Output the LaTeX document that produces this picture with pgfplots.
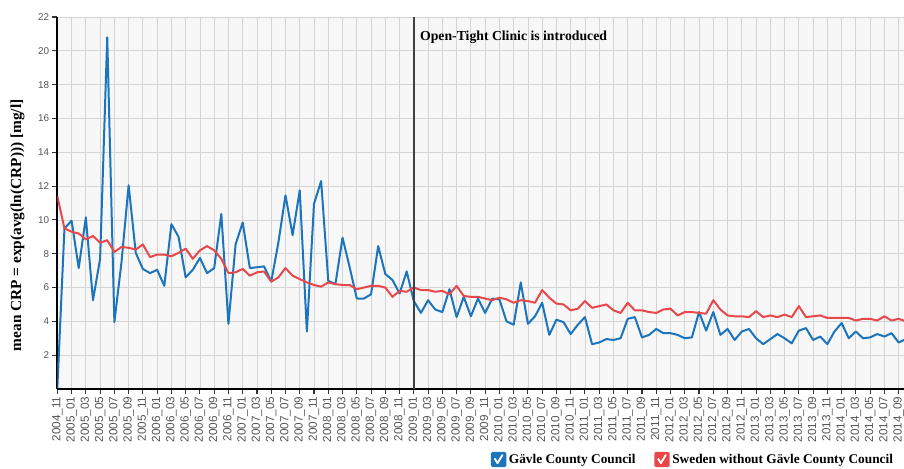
\documentclass[border=0pt]{standalone}
\usepackage{fontspec}
\setmainfont{Liberation Serif}
\newfontfamily\ticksans{Liberation Sans}
\usepackage{pgfplots}
\usepackage{pgfplotstable}
\pgfplotsset{compat=1.18}
\definecolor{gblue}{RGB}{28,117,188}
\definecolor{sred}{RGB}{232,72,74}
\definecolor{bggray}{RGB}{247,247,247}
\definecolor{gridgray}{RGB}{212,212,212}
\definecolor{tickgray}{RGB}{85,85,85}

\pgfplotstableread{
m g s
0 0.05 11.4
1 9.5 9.5
2 9.95 9.3
3 7.15 9.2
4 10.15 8.85
5 5.25 9.05
6 7.7 8.65
7 20.8 8.8
8 3.95 8.1
9 7.5 8.4
10 12.05 8.35
11 8.05 8.25
12 7.1 8.55
13 6.85 7.8
14 7.05 7.95
15 6.1 7.95
16 9.75 7.85
17 9.0 8.05
18 6.6 8.3
19 7.05 7.7
20 7.75 8.2
21 6.85 8.45
22 7.15 8.2
23 10.35 7.7
24 3.85 6.85
25 8.55 6.9
26 9.85 7.1
27 7.15 6.7
28 7.2 6.9
29 7.25 6.95
30 6.35 6.35
31 8.65 6.6
32 11.45 7.15
33 9.1 6.7
34 11.75 6.5
35 3.4 6.3
36 10.95 6.15
37 12.3 6.05
38 6.4 6.3
39 6.2 6.2
40 8.95 6.15
41 7.2 6.15
42 5.35 5.9
43 5.35 6.0
44 5.6 6.1
45 8.45 6.1
46 6.8 6.0
47 6.45 5.45
48 5.65 5.8
49 6.95 5.75
50 5.2 6.0
51 4.5 5.85
52 5.25 5.85
53 4.7 5.75
54 4.55 5.8
55 5.9 5.6
56 4.25 6.1
57 5.45 5.5
58 4.3 5.45
59 5.35 5.45
60 4.5 5.35
61 5.35 5.25
62 5.3 5.4
63 4.0 5.3
64 3.8 5.1
65 6.3 5.25
66 3.85 5.2
67 4.3 5.1
68 5.1 5.85
69 3.2 5.4
70 4.1 5.05
71 3.95 5.0
72 3.25 4.65
73 3.8 4.75
74 4.25 5.2
75 2.65 4.8
76 2.75 4.9
77 2.95 5.0
78 2.9 4.65
79 3.0 4.5
80 4.15 5.1
81 4.25 4.65
82 3.05 4.65
83 3.2 4.55
84 3.55 4.5
85 3.3 4.7
86 3.3 4.75
87 3.2 4.35
88 3.0 4.55
89 3.05 4.55
90 4.55 4.5
91 3.45 4.45
92 4.55 5.25
93 3.2 4.7
94 3.55 4.35
95 2.9 4.3
96 3.4 4.3
97 3.55 4.25
98 3.0 4.6
99 2.65 4.25
100 2.95 4.35
101 3.25 4.25
102 3.0 4.4
103 2.7 4.25
104 3.45 4.9
105 3.6 4.25
106 2.9 4.3
107 3.1 4.35
108 2.65 4.2
109 3.4 4.2
110 3.9 4.2
111 3.0 4.2
112 3.4 4.05
113 3.0 4.15
114 3.05 4.15
115 3.25 4.05
116 3.1 4.3
117 3.3 4.05
118 2.75 4.15
119 2.95 4.0
}\crpdata

\begin{document}
\begin{tikzpicture}
\begin{axis}[
  scale only axis,
  width=635pt, height=279pt,
  xmin=0, xmax=118.75, ymin=0, ymax=22,
  axis x line*=bottom, axis y line*=left,
  axis line style={-, black, line width=1.4pt},
  axis background/.style={fill=bggray},
  grid=major,
  major grid style={gridgray, line width=0.6pt},
  ytick={2,4,...,22},
  xtick={0,2,...,118},
  xticklabels={2004\_11,
    2005\_01,2005\_03,2005\_05,2005\_07,2005\_09,2005\_11,
    2006\_01,2006\_03,2006\_05,2006\_07,2006\_09,2006\_11,
    2007\_01,2007\_03,2007\_05,2007\_07,2007\_09,2007\_11,
    2008\_01,2008\_03,2008\_05,2008\_07,2008\_09,2008\_11,
    2009\_01,2009\_03,2009\_05,2009\_07,2009\_09,2009\_11,
    2010\_01,2010\_03,2010\_05,2010\_07,2010\_09,2010\_11,
    2011\_01,2011\_03,2011\_05,2011\_07,2011\_09,2011\_11,
    2012\_01,2012\_03,2012\_05,2012\_07,2012\_09,2012\_11,
    2013\_01,2013\_03,2013\_05,2013\_07,2013\_09,2013\_11,
    2014\_01,2014\_03,2014\_05,2014\_07,2014\_09},
  tick align=outside,
  major tick length=4pt,
  tick style={black!80, line width=0.8pt},
  /pgf/number format/assume math mode=true,
  x tick label style={rotate=90, anchor=east, font=\ticksans\fontsize{8.8}{9}\selectfont, text=tickgray, inner sep=1.5pt},
  y tick label style={font=\ticksans\fontsize{7.4}{8}\selectfont, text=tickgray, inner sep=2pt},
  ylabel={mean CRP = exp(avg(ln(CRP))) [mg/l]},
  ylabel style={at={(axis description cs:-0.047,0.44)}, anchor=center, font=\bfseries\fontsize{11.5}{13}\selectfont},
  legend style={at={(rel axis cs:1,0)}, anchor=east, yshift=-53pt, xshift=-3pt,
    draw=none, fill=none, font=\bfseries\fontsize{10}{12}\selectfont,
    /tikz/every even column/.append style={column sep=12pt}},
  legend columns=2,
  legend cell align=left,
  clip=true,
]
\addplot[gblue, line width=1.5pt, line join=round,
  legend image code/.code={
    \fill[gblue, rounded corners=0.6pt] (0pt,-4.8pt) rectangle (10pt,5pt);
    \draw[white, line width=1.4pt, line cap=round, line join=round] (2.2pt,0.6pt) -- (4.2pt,-2.6pt) -- (7.8pt,3.4pt);
  }] table[x=m, y=g] {\crpdata};
\addlegendentry{Gävle County Council}
\addplot[sred, line width=1.5pt, line join=round,
  legend image code/.code={
    \fill[sred, rounded corners=0.6pt] (0pt,-4.8pt) rectangle (10pt,5pt);
    \draw[white, line width=1.4pt, line cap=round, line join=round] (2.2pt,0.6pt) -- (4.2pt,-2.6pt) -- (7.8pt,3.4pt);
  }] table[x=m, y=s] {\crpdata};
\addlegendentry{Sweden without Gävle County Council}
\draw[black!75, line width=1.1pt] (axis cs:50,0) -- (axis cs:50,22);
\node[anchor=west, inner sep=0pt, font=\bfseries\fontsize{10.3}{12}\selectfont] at (axis cs:50.85,20.8) {Open-Tight Clinic is introduced};
\coordinate (BL) at (rel axis cs:0,0);
\coordinate (TR) at (rel axis cs:1,1);
\end{axis}
\pgfresetboundingbox
\path ([xshift=-43pt,yshift=-60pt]BL) rectangle ([yshift=12.75pt]TR);
\end{tikzpicture}
\end{document}
